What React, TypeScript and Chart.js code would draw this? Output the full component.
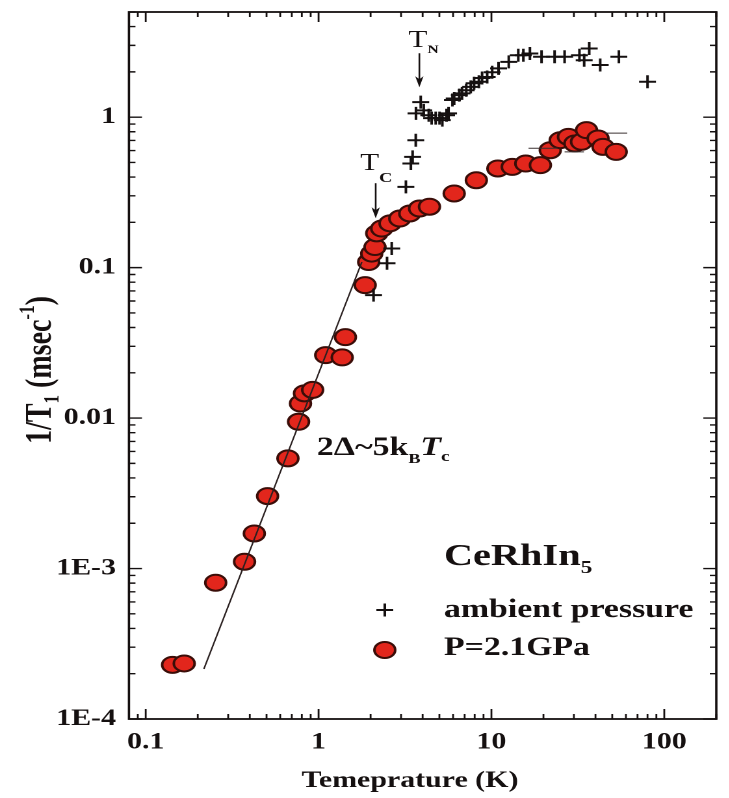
import React, { useEffect, useRef } from "react";
import { Chart, registerables } from "chart.js";

Chart.register(...registerables);

// ---------------- data ----------------
// CeRhIn5, ambient pressure (+)
const ambientTemp = [
  2.08, 2.49, 2.65, 3.2, 3.42, 3.5, 3.65, 3.66, 3.9, 4.06, 4.34, 4.51, 4.76, 5.01, 5.2, 5.5, 5.65,
  5.95, 6.09, 6.52, 6.76, 7.15, 7.59, 7.94, 8.46, 8.83, 9.45, 10.1, 11.0, 12.6, 14.3, 15.3, 16.7,
  19.5, 23.2, 26.5, 32.3, 34.4, 36.8, 42.6, 54.6, 80,
];
const ambientRate = [
  0.0656, 0.107, 0.134, 0.344, 0.492, 0.545, 0.703, 1.06, 1.26, 1.11, 1.03, 0.985, 0.985, 0.985,
  0.955, 1.03, 1.06, 1.3, 1.33, 1.4, 1.44, 1.51, 1.59, 1.68, 1.72, 1.82, 1.85, 1.99, 2.11, 2.33,
  2.58, 2.58, 2.65, 2.52, 2.52, 2.52, 2.58, 2.39, 2.86, 2.22, 2.52, 1.72,
];
// CeRhIn5, P = 2.1 GPa (red circles)
const pressureTemp = [
  0.143, 0.167, 0.254, 0.373, 0.425, 0.507, 0.665, 0.766, 0.786, 0.829, 0.924, 1.1, 1.37, 1.43,
  1.86, 1.95, 2.03, 2.12, 2.17, 2.32, 2.59, 2.95, 3.37, 3.84, 4.38, 6.09, 8.18, 10.9, 13.2, 15.8,
  19.2, 21.9, 25.0, 27.9, 30.4, 33.2, 35.5, 41.4, 44.2, 52.7,
];
const pressureRate = [
  2.29e-4, 2.34e-4, 8.05e-4, 1.11e-3, 1.71e-3, 3.03e-3, 5.4e-3, 9.45e-3, 0.0125, 0.0146, 0.0154,
  0.0262, 0.0253, 0.0345, 0.0765, 0.109, 0.124, 0.137, 0.169, 0.182, 0.197, 0.212, 0.229, 0.247,
  0.254, 0.311, 0.381, 0.456, 0.467, 0.492, 0.48, 0.603, 0.703, 0.74, 0.668, 0.686, 0.82, 0.722,
  0.635, 0.588,
];
// horizontal error bars seen on a few high-temperature points
const errRate = [0.622, 0.588, 0.783];
const errTempLow = [16.4, 26.5, 45.1];
const errTempHigh = [24.3, 34.3, 61.1];

// gap fit line (2Δ ~ 5 kB Tc)
const fitTemp = [0.217, 1.78];
const fitRate = [2.15e-4, 0.109];

const xTickValues = [0.1, 1, 10, 100];
const xTickLabels = ["0.1", "1", "10", "100"];
const yTickValues = [1e-4, 1e-3, 0.01, 0.1, 1];
const yTickLabels = ["1E-4", "1E-3", "0.01", "0.1", "1"];

const X_MIN = 0.08;
const X_MAX = 200;
const Y_MIN = 1e-4;
const Y_MAX = 5;

const T_N = 3.83; // arrow position (K)
const T_N_ARROW = [2.66, 1.58];
const T_C = 2.14;
const T_C_ARROW = [0.364, 0.213];

// ---------------- styling ----------------
const SX = 1.3; // horizontal stretch of the reference picture
const W = 561;
const H = 798;
const INK = "#151010";
const RED = "#e2261c";
const RED_EDGE = "#3a0d08";
const SERIF = '"Liberation Serif", "Times New Roman", serif';

type Run = { text: string; font: string; dy?: number };

function runsWidth(ctx: CanvasRenderingContext2D, runs: Run[]) {
  let w = 0;
  for (const r of runs) {
    ctx.font = r.font;
    w += ctx.measureText(r.text).width;
  }
  return w;
}

function drawRuns(ctx: CanvasRenderingContext2D, x: number, y: number, runs: Run[]) {
  let cx = x;
  for (const r of runs) {
    ctx.font = r.font;
    ctx.fillText(r.text, cx, y + (r.dy || 0));
    cx += ctx.measureText(r.text).width;
  }
  return cx - x;
}

function arrow(ctx: CanvasRenderingContext2D, x: number, y0: number, y1: number) {
  ctx.beginPath();
  ctx.moveTo(x, y0);
  ctx.lineTo(x, y1 - 4);
  ctx.lineWidth = 1.3;
  ctx.stroke();
  ctx.beginPath();
  ctx.moveTo(x, y1);
  ctx.lineTo(x - 3.2, y1 - 11);
  ctx.lineTo(x, y1 - 8);
  ctx.lineTo(x + 3.2, y1 - 11);
  ctx.closePath();
  ctx.fill();
}

const decorPlugin = {
  id: "decor",
  afterDraw(chart: any) {
    const { ctx, chartArea: a, scales } = chart;
    const xs = scales.x;
    const ys = scales.y;
    ctx.save();
    ctx.strokeStyle = INK;
    ctx.fillStyle = INK;

    // frame
    ctx.lineWidth = 1.8;
    ctx.strokeRect(a.left, a.top, a.right - a.left, a.bottom - a.top);

    // inward ticks on all four sides
    ctx.lineWidth = 1.4;
    ctx.beginPath();
    for (let e = -2; e <= 3; e++) {
      for (let m = 1; m <= 9; m++) {
        const v = m * Math.pow(10, e);
        if (v >= X_MIN * 0.999 && v <= X_MAX * 1.001) {
          const p = xs.getPixelForValue(v);
          const len = m === 1 ? 10 : 5;
          ctx.moveTo(p, a.bottom);
          ctx.lineTo(p, a.bottom - len);
          ctx.moveTo(p, a.top);
          ctx.lineTo(p, a.top + len);
        }
      }
    }
    for (let e = -5; e <= 1; e++) {
      for (let m = 1; m <= 9; m++) {
        const v = m * Math.pow(10, e);
        if (v >= Y_MIN * 0.999 && v <= Y_MAX * 1.001) {
          const p = ys.getPixelForValue(v);
          const len = m === 1 ? 10 : 5;
          ctx.moveTo(a.left, p);
          ctx.lineTo(a.left + len, p);
          ctx.moveTo(a.right, p);
          ctx.lineTo(a.right - len, p);
        }
      }
    }
    ctx.stroke();

    ctx.textBaseline = "alphabetic";
    ctx.textAlign = "left";

    // x-axis title
    const xt: Run[] = [{ text: "Temeprature (K)", font: `bold 23px ${SERIF}` }];
    drawRuns(ctx, 315.4 - runsWidth(ctx, xt) / 2, 787, xt);

    // y-axis title (rotated)
    const yt: Run[] = [
      { text: "1/T", font: `bold 28px ${SERIF}` },
      { text: "1", font: `bold 17px ${SERIF}`, dy: 6 },
      { text: " (msec", font: `bold 28px ${SERIF}` },
      { text: "-1", font: `bold 17px ${SERIF}`, dy: -13 },
      { text: ")", font: `bold 28px ${SERIF}` },
    ];
    ctx.save();
    ctx.translate(39, 370);
    ctx.rotate(-Math.PI / 2);
    drawRuns(ctx, -runsWidth(ctx, yt) / 2, 0, yt);
    ctx.restore();

    // T_N arrow and label
    const xn = xs.getPixelForValue(T_N);
    const yn0 = ys.getPixelForValue(T_N_ARROW[0]);
    arrow(ctx, xn, yn0, ys.getPixelForValue(T_N_ARROW[1]));
    drawRuns(ctx, xn - 8.5, yn0 - 6, [
      { text: "T", font: `24px ${SERIF}` },
      { text: "N", font: `bold 12px ${SERIF}`, dy: 6 },
    ]);

    // T_C arrow and label
    const xc = xs.getPixelForValue(T_C);
    const yc0 = ys.getPixelForValue(T_C_ARROW[0]);
    arrow(ctx, xc, yc0, ys.getPixelForValue(T_C_ARROW[1]));
    drawRuns(ctx, xc - 12, yc0 - 13, [
      { text: "T", font: `24px ${SERIF}` },
      { text: "C", font: `bold 14px ${SERIF}`, dy: 12 },
    ]);

    // gap annotation
    drawRuns(ctx, 243.8, 455, [
      { text: "2\u0394~5k", font: `bold 26px ${SERIF}` },
      { text: "B", font: `bold 14px ${SERIF}`, dy: 8 },
      { text: "T", font: `italic bold 26px ${SERIF}` },
      { text: "c", font: `bold 15px ${SERIF}`, dy: 6 },
    ]);

    // compound name
    drawRuns(ctx, 341.5, 565, [
      { text: "CeRhIn", font: `bold 31px ${SERIF}` },
      { text: "5", font: `bold 18px ${SERIF}`, dy: 8 },
    ]);

    // legend
    const lx = 296;
    ctx.lineWidth = 2;
    ctx.beginPath();
    ctx.moveTo(lx - 6.5, 610);
    ctx.lineTo(lx + 6.5, 610);
    ctx.moveTo(lx, 603.5);
    ctx.lineTo(lx, 616.5);
    ctx.stroke();
    drawRuns(ctx, 341.5, 617, [{ text: "ambient pressure", font: `bold 26px ${SERIF}` }]);

    ctx.beginPath();
    ctx.arc(lx, 650, 8, 0, Math.PI * 2);
    ctx.fillStyle = RED;
    ctx.fill();
    ctx.strokeStyle = RED_EDGE;
    ctx.lineWidth = 2;
    ctx.stroke();
    ctx.fillStyle = INK;
    drawRuns(ctx, 341.5, 655, [{ text: "P=2.1GPa", font: `bold 26px ${SERIF}` }]);

    ctx.restore();
  },
};

export default function App() {
  const ref = useRef<HTMLCanvasElement | null>(null);

  useEffect(() => {
    if (!ref.current) return;
    const tickFont = { family: SERIF, weight: "bold" as const, size: 23 };
    const errorSets = errRate.map((y, i) => ({
      label: "err" + i,
      type: "line",
      data: [
        { x: errTempLow[i], y },
        { x: errTempHigh[i], y },
      ],
      borderColor: "#3a3030",
      borderWidth: 1,
      pointRadius: 0,
      showLine: true,
      fill: false,
      order: 0,
    }));
    const chart = new Chart(ref.current, {
      type: "scatter",
      data: {
        datasets: [
          {
            label: "fit",
            type: "line",
            data: fitTemp.map((x, i) => ({ x, y: fitRate[i] })),
            borderColor: "#2a2020",
            borderWidth: 1.2,
            pointRadius: 0,
            showLine: true,
            fill: false,
            order: 0,
          } as any,
          ...(errorSets as any[]),
          {
            label: "ambient pressure",
            data: ambientTemp.map((x, i) => ({ x, y: ambientRate[i] })),
            pointStyle: "cross",
            pointRadius: 6.5,
            borderColor: INK,
            borderWidth: 2,
            backgroundColor: INK,
            order: 1,
          },
          {
            label: "P=2.1GPa",
            data: pressureTemp.map((x, i) => ({ x, y: pressureRate[i] })),
            pointStyle: "circle",
            pointRadius: 8,
            backgroundColor: RED,
            borderColor: RED_EDGE,
            borderWidth: 2,
            order: 2,
          },
        ],
      },
      options: {
        animation: false,
        responsive: false,
        maintainAspectRatio: false,
        devicePixelRatio: 2,
        events: [],
        layout: { padding: { top: 12, right: 2.5, left: 0, bottom: 0 } },
        plugins: {
          legend: { display: false },
          tooltip: { enabled: false },
          title: { display: false },
        },
        scales: {
          x: {
            type: "logarithmic",
            position: "bottom",
            min: X_MIN,
            max: X_MAX,
            bounds: "data",
            grid: { display: false, drawTicks: false },
            border: { display: false },
            afterBuildTicks: (s: any) => {
              s.ticks = xTickValues.map((v) => ({ value: v }));
            },
            afterFit: (s: any) => {
              s.height = 79;
              s.paddingLeft = 0;
              s.paddingRight = 0;
              s.paddingTop = 0;
              s.paddingBottom = 0;
            },
            ticks: {
              autoSkip: false,
              maxRotation: 0,
              padding: 10,
              color: INK,
              font: tickFont,
              callback: (_v: any, i: number) => xTickLabels[i],
            },
          },
          y: {
            type: "logarithmic",
            position: "left",
            min: Y_MIN,
            max: Y_MAX,
            bounds: "data",
            grid: { display: false, drawTicks: false },
            border: { display: false },
            afterBuildTicks: (s: any) => {
              s.ticks = yTickValues.map((v) => ({ value: v }));
            },
            afterFit: (s: any) => {
              s.width = 99.2;
              s.paddingLeft = 0;
              s.paddingRight = 0;
              s.paddingTop = 0;
              s.paddingBottom = 0;
            },
            ticks: {
              autoSkip: false,
              padding: 10,
              color: INK,
              font: tickFont,
              callback: (_v: any, i: number) => yTickLabels[i],
            },
          },
        },
      } as any,
      plugins: [decorPlugin],
    });
    return () => chart.destroy();
  }, []);

  return (
    <div
      style={{
        position: "absolute",
        left: 0,
        top: 0,
        width: 729,
        height: 798,
        overflow: "hidden",
        background: "#fff",
      }}
    >
      <div style={{ width: W, height: H, transform: `scaleX(${SX})`, transformOrigin: "0 0" }}>
        <canvas ref={ref} width={W} height={H} style={{ display: "block", width: W, height: H }} />
      </div>
    </div>
  );
}
